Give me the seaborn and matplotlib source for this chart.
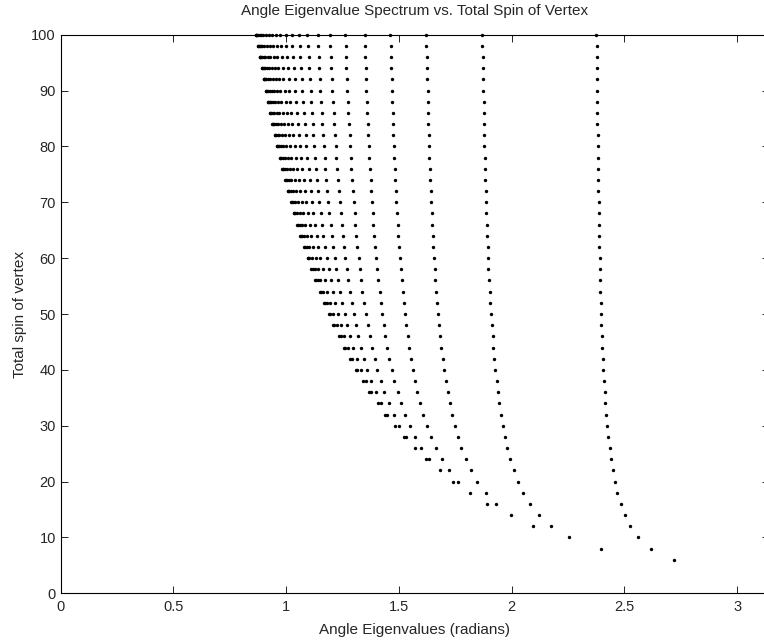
import matplotlib
matplotlib.use('Agg')
import matplotlib.pyplot as plt
import seaborn as sns
import numpy as np
import pandas as pd

# angle eigenvalues, one list per branch,
# each branch runs up to total spin 100 in steps of 2
branch_01 = [2.721, 2.618, 2.562, 2.526, 2.501, 2.483, 2.468, 2.457, 2.448, 2.440,
             2.434, 2.428, 2.423, 2.419, 2.415, 2.412, 2.409, 2.406, 2.404, 2.402,
             2.400, 2.398, 2.396, 2.395, 2.393, 2.392, 2.391, 2.390, 2.388, 2.387,
             2.387, 2.386, 2.385, 2.384, 2.383, 2.383, 2.382, 2.381, 2.381, 2.380,
             2.379, 2.379, 2.378, 2.378, 2.378, 2.377, 2.377, 2.376]
branch_02 = [2.394, 2.256, 2.174, 2.120, 2.081, 2.051, 2.028, 2.009, 1.994, 1.981,
             1.970, 1.960, 1.952, 1.945, 1.938, 1.933, 1.927, 1.923, 1.919, 1.915,
             1.911, 1.908, 1.905, 1.902, 1.900, 1.897, 1.895, 1.893, 1.891, 1.889,
             1.888, 1.886, 1.884, 1.883, 1.882, 1.880, 1.879, 1.878, 1.877, 1.876,
             1.875, 1.874, 1.873, 1.872, 1.871, 1.870, 1.870]
branch_03 = [2.094, 1.998, 1.932, 1.885, 1.848, 1.820, 1.796, 1.777, 1.761, 1.747,
             1.735, 1.725, 1.716, 1.708, 1.700, 1.694, 1.688, 1.683, 1.678, 1.673,
             1.669, 1.665, 1.662, 1.658, 1.655, 1.653, 1.650, 1.648, 1.645, 1.643,
             1.641, 1.639, 1.637, 1.635, 1.634, 1.632, 1.631, 1.629, 1.628, 1.627,
             1.625, 1.624, 1.623, 1.622, 1.621]
branch_04 = [1.891, 1.817, 1.764, 1.723, 1.690, 1.664, 1.642, 1.623, 1.607, 1.593,
             1.581, 1.571, 1.561, 1.553, 1.545, 1.539, 1.532, 1.527, 1.521, 1.517,
             1.512, 1.508, 1.504, 1.501, 1.497, 1.494, 1.492, 1.489, 1.486, 1.484,
             1.481, 1.479, 1.477, 1.475, 1.473, 1.472, 1.470, 1.468, 1.467, 1.465,
             1.464, 1.463, 1.461]
branch_05 = [1.738, 1.680, 1.635, 1.600, 1.571, 1.547, 1.526, 1.509, 1.494, 1.480,
             1.469, 1.458, 1.449, 1.440, 1.433, 1.426, 1.420, 1.414, 1.408, 1.403,
             1.399, 1.395, 1.391, 1.387, 1.383, 1.380, 1.377, 1.374, 1.372, 1.369,
             1.367, 1.364, 1.362, 1.360, 1.358, 1.356, 1.354, 1.353, 1.351, 1.349,
             1.348]
branch_06 = [1.618, 1.571, 1.533, 1.502, 1.476, 1.454, 1.435, 1.419, 1.404, 1.392,
             1.380, 1.370, 1.361, 1.353, 1.345, 1.338, 1.332, 1.326, 1.321, 1.316,
             1.311, 1.307, 1.303, 1.299, 1.296, 1.292, 1.289, 1.286, 1.283, 1.281,
             1.278, 1.276, 1.274, 1.271, 1.269, 1.267, 1.265, 1.263, 1.262]
branch_07 = [1.521, 1.481, 1.448, 1.421, 1.397, 1.378, 1.360, 1.345, 1.331, 1.319,
             1.309, 1.299, 1.290, 1.282, 1.275, 1.268, 1.262, 1.256, 1.250, 1.246,
             1.241, 1.237, 1.232, 1.229, 1.225, 1.222, 1.219, 1.215, 1.213, 1.210,
             1.207, 1.205, 1.203, 1.200, 1.198, 1.196, 1.194]
branch_08 = [1.439, 1.405, 1.376, 1.352, 1.331, 1.313, 1.297, 1.283, 1.270, 1.259,
             1.248, 1.239, 1.230, 1.223, 1.216, 1.209, 1.203, 1.197, 1.192, 1.187,
             1.182, 1.178, 1.174, 1.170, 1.167, 1.163, 1.160, 1.157, 1.154, 1.151,
             1.149, 1.146, 1.144, 1.142, 1.140]
branch_09 = [1.369, 1.340, 1.315, 1.293, 1.274, 1.257, 1.242, 1.229, 1.217, 1.206,
             1.197, 1.188, 1.180, 1.172, 1.165, 1.159, 1.153, 1.147, 1.142, 1.137,
             1.133, 1.128, 1.124, 1.121, 1.117, 1.114, 1.111, 1.108, 1.105, 1.102,
             1.099, 1.097, 1.094]
branch_10 = [1.309, 1.283, 1.260, 1.241, 1.224, 1.208, 1.194, 1.182, 1.171, 1.161,
             1.152, 1.143, 1.135, 1.128, 1.121, 1.115, 1.109, 1.104, 1.099, 1.094,
             1.090, 1.086, 1.082, 1.078, 1.074, 1.071, 1.068, 1.065, 1.062, 1.059,
             1.057]
branch_11 = [1.256, 1.233, 1.213, 1.195, 1.179, 1.165, 1.152, 1.141, 1.130, 1.120,
             1.112, 1.104, 1.096, 1.089, 1.083, 1.077, 1.071, 1.066, 1.061, 1.056,
             1.052, 1.048, 1.044, 1.040, 1.037, 1.034, 1.030, 1.027, 1.025]
branch_12 = [1.209, 1.188, 1.170, 1.154, 1.139, 1.126, 1.114, 1.103, 1.093, 1.084,
             1.076, 1.068, 1.061, 1.055, 1.048, 1.043, 1.037, 1.032, 1.027, 1.023,
             1.018, 1.014, 1.011, 1.007, 1.004, 1.000, 0.997]
branch_13 = [1.167, 1.148, 1.132, 1.117, 1.103, 1.091, 1.080, 1.070, 1.061, 1.052,
             1.044, 1.037, 1.030, 1.023, 1.017, 1.012, 1.007, 1.002, 0.997, 0.993,
             0.988, 0.985, 0.981, 0.977, 0.974]
branch_14 = [1.129, 1.112, 1.097, 1.083, 1.071, 1.059, 1.049, 1.039, 1.030, 1.022,
             1.015, 1.008, 1.001, 0.995, 0.989, 0.984, 0.979, 0.974, 0.970, 0.965,
             0.961, 0.957, 0.954]
branch_15 = [1.095, 1.079, 1.065, 1.052, 1.041, 1.030, 1.020, 1.011, 1.003, 0.995,
             0.988, 0.981, 0.975, 0.969, 0.964, 0.958, 0.954, 0.949, 0.945, 0.940,
             0.936]
branch_16 = [1.063, 1.049, 1.036, 1.024, 1.013, 1.003, 0.994, 0.986, 0.978, 0.970,
             0.963, 0.957, 0.951, 0.945, 0.940, 0.935, 0.930, 0.926, 0.922]
branch_17 = [1.034, 1.021, 1.009, 0.998, 0.988, 0.979, 0.970, 0.962, 0.954, 0.947,
             0.941, 0.935, 0.929, 0.923, 0.918, 0.914, 0.909]
branch_18 = [1.008, 0.995, 0.984, 0.974, 0.964, 0.956, 0.947, 0.940, 0.933, 0.926,
             0.920, 0.914, 0.908, 0.903, 0.898]
branch_19 = [0.983, 0.972, 0.961, 0.951, 0.942, 0.934, 0.926, 0.919, 0.912, 0.906,
             0.900, 0.894, 0.889]
branch_20 = [0.960, 0.949, 0.940, 0.930, 0.922, 0.914, 0.907, 0.900, 0.893, 0.887,
             0.882]
branch_21 = [0.939, 0.929, 0.919, 0.911, 0.903, 0.895, 0.888, 0.882, 0.876]
branch_22 = [0.919, 0.909, 0.901, 0.892, 0.885, 0.878, 0.871]
branch_23 = [0.900, 0.891, 0.883, 0.875, 0.868]
branch_24 = [0.882, 0.874, 0.866]
branch_25 = [0.865]

branches = [branch_01, branch_02, branch_03, branch_04, branch_05, branch_06,
            branch_07, branch_08, branch_09, branch_10, branch_11, branch_12,
            branch_13, branch_14, branch_15, branch_16, branch_17, branch_18,
            branch_19, branch_20, branch_21, branch_22, branch_23, branch_24,
            branch_25]
top_spin = 100

rows = []
for br in branches:
    first = top_spin - 2 * (len(br) - 1)
    for i, ang in enumerate(br):
        rows.append((ang, first + 2 * i))
df = pd.DataFrame(rows, columns=['angle', 'spin'])

sns.set_style('white')
plt.rcParams['font.family'] = ['Liberation Sans', 'DejaVu Sans']

W, H = 764, 641
fig = plt.figure(figsize=(W / 100, H / 100), dpi=100)
# x axis runs 0..pi, right edge falls just past the image like the original
ax = fig.add_axes([60.7 / W, 47.7 / H, np.pi * 225.5 / W, 558.6 / H])

sns.scatterplot(data=df, x='angle', y='spin', color='black', s=6,
                linewidth=0, marker='o', clip_on=False, ax=ax)

ax.set_xlim(0, np.pi)
ax.set_ylim(0, 100)
ax.set_xticks([0, 0.5, 1, 1.5, 2, 2.5, 3])
ax.set_xticklabels(['0', '0.5', '1', '1.5', '2', '2.5', '3'])
ax.set_yticks(range(0, 101, 10))

for sp in ax.spines.values():
    sp.set_visible(True)
    sp.set_color('black')
    sp.set_linewidth(0.8)

ax.tick_params(axis='both', direction='in', length=5, width=0.6, color='black',
               top=True, right=True, bottom=True, left=True, labelsize=10.5)
ax.tick_params(axis='x', pad=5)
ax.tick_params(axis='y', pad=3.5)

ax.set_title('Angle Eigenvalue Spectrum vs. Total Spin of Vertex', fontsize=11, pad=14)
ax.set_xlabel('Angle Eigenvalues (radians)', fontsize=11, labelpad=6)
ax.set_ylabel('Total spin of vertex', fontsize=11, labelpad=3)

fig.savefig('out.png', dpi=100)
